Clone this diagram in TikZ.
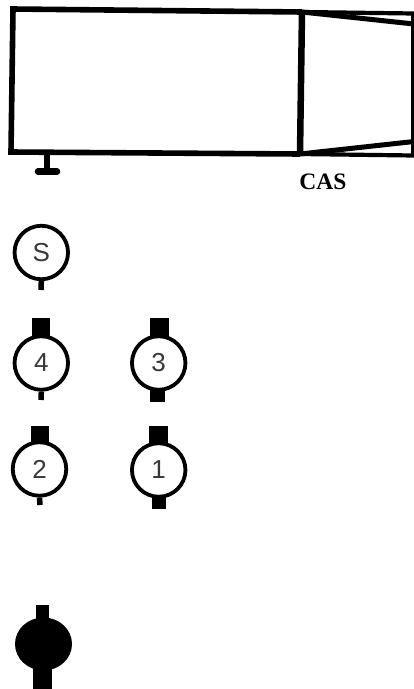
\documentclass[tikz,border=0pt]{standalone}
\usepackage{fontspec}
\usetikzlibrary{shapes.geometric}
\setmainfont{Liberation Sans}
\newfontfamily\serifbold{Liberation Serif}
\tikzset{
  cyl/.style={circle,draw=black,line width=3.8pt,fill=white,minimum size=53.5pt,inner sep=0pt,text=black!78,font=\fontsize{26}{26}\selectfont},
  solidcyl/.style={ellipse,draw=none,fill=black,minimum width=57pt,minimum height=53pt,inner sep=0pt},
  frameline/.style={line width=5.6pt,line cap=butt,line join=miter},
  thinline/.style={line width=2.4pt},
  block/.style={fill=black,draw=none,inner sep=0pt,rectangle},
}
\begin{document}
\begin{tikzpicture}[x=1pt,y=-1pt]
\useasboundingbox (0,0) rectangle (414,689);
% frame
\coordinate (tl) at (13,9);
\coordinate (tm) at (302,12);
\coordinate (tr) at (414,13.5);
\coordinate (bl) at (11,152);
\coordinate (bm) at (300,154);
\coordinate (br) at (414,155.5);
\coordinate (trin) at (414,24);
\coordinate (brin) at (414,141.5);
\draw[frameline] (tm) -- (tl) -- (bl) -- (bm);
\draw[frameline,line width=4.2pt] (tm) -- (tr);
\draw[frameline,line width=4.2pt] (bm) -- (br);
\draw[frameline,line width=6.5pt] (tm) -- (bm);
\draw[frameline,line width=5pt] (tm) -- (trin);
\draw[frameline,line width=5pt] (bm) -- (brin);
\draw[thinline] (412.5,13) -- (412.5,156);
% foot
\coordinate (foottop) at (46.5,154);
\coordinate (footbase) at (46.5,170);
\draw[line width=6pt] (foottop) -- (footbase);
\draw[line width=6.5pt,line cap=round] (38,171.5) -- (57,171.5);
\node[font=\serifbold\bfseries\fontsize{23.5}{23.5}\selectfont,inner sep=0pt] (cas) at (323,182) {CAS};
% top blocks
\node[block,minimum width=18pt,minimum height=22pt] (b4) at (41,329) {};
\node[block,minimum width=19pt,minimum height=22pt] (b3) at (159.5,329) {};
\node[block,minimum width=18pt,minimum height=22pt] (b2) at (40,437) {};
\node[block,minimum width=19pt,minimum height=22pt] (b1) at (158.5,437) {};
% bottom blocks
\node[block,minimum width=15pt,minimum height=22pt] (c3) at (157.5,390.5) {};
\node[block,minimum width=14pt,minimum height=22pt] (c1) at (159,497.5) {};
% stems
\coordinate (s0) at (41,290);
\coordinate (s4) at (41,400);
\coordinate (s2) at (40,505);
% cylinders
\node[cyl] (cs) at (41.3,252.5) {S};
\node[cyl] (c4) at (41.3,363) {4};
\node[cyl] (c33) at (158.7,363) {3};
\node[cyl] (c2) at (39.5,469) {2};
\node[cyl] (c11) at (158.7,470) {1};
\draw[line width=5.5pt] (cs.south) -- (s0);
\draw[line width=5.5pt] (c4.south) -- (s4);
\draw[line width=5.5pt] (c2.south) -- (s2);
% solid
\node[block,minimum width=13pt,minimum height=20pt] (t5) at (42.5,615) {};
\node[block,minimum width=19pt,minimum height=25pt] (b5) at (42.5,676.5) {};
\node[solidcyl] (c5) at (43.5,644) {};
\end{tikzpicture}
\end{document}
